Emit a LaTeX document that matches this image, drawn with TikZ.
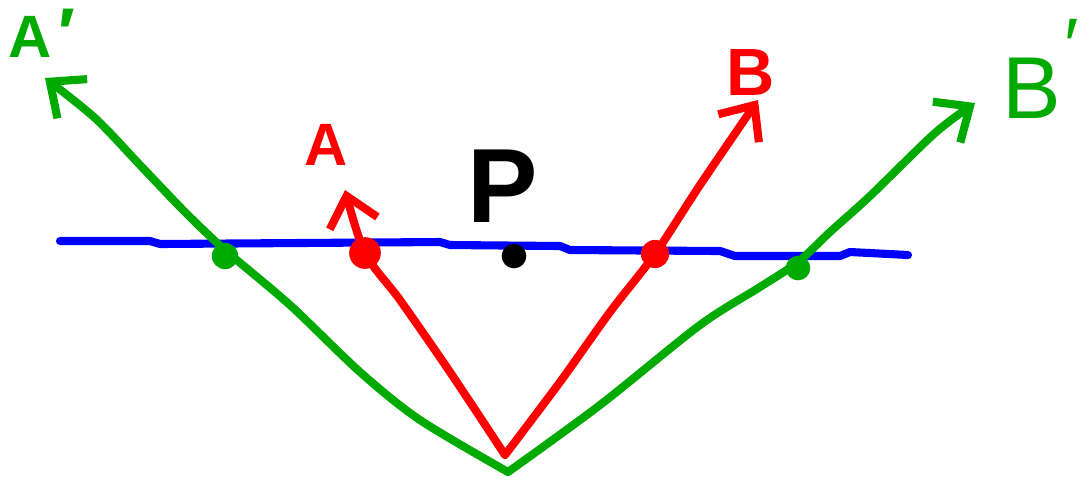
\documentclass[tikz,border=0pt]{standalone}
\usepackage{fontspec}
\setmainfont{Liberation Sans}
\usetikzlibrary{arrows.meta}
\definecolor{pgreen}{RGB}{0,170,0}
\definecolor{pred}{RGB}{255,0,0}
\definecolor{pblue}{RGB}{0,0,255}
\tikzset{
  px/.style={x=0.01cm,y=-0.01cm},
  stroke/.style={line width=2.3pt,line cap=round,line join=round},
  ray/.style={stroke,-{Straight Barb[length=8pt,width=14pt,line width=2.3pt]}},
  dotmark/.style={circle,inner sep=0pt,minimum size=7.5pt},
  lbl/.style={inner sep=0pt}
}
\begin{document}
\begin{tikzpicture}[px]
\useasboundingbox (0,0) rectangle (1091,484);
% blue line
\draw[stroke,pblue] (60,241) -- (150,241) -- (160,244) -- (440,242) -- (450,245) -- (560,246) -- (570,250) -- (720,251) -- (735,256) -- (840,256) -- (850,252) -- (908,255);
% apexes and tips
\coordinate (rv) at (505,455);
\coordinate (gv) at (508,472);
\coordinate (at) at (345,190);
\coordinate (bt) at (758,100);
\coordinate (apt) at (45,78);
\coordinate (bpt) at (975,103);
% rays
\draw[ray,pgreen] plot[smooth,tension=0.5] coordinates {(gv) (420,420) (360,372) (290,305) (225,250) (185,212) (140,165) (95,118) (apt)};
\draw[ray,pgreen] plot[smooth,tension=0.5] coordinates {(gv) (600,405) (700,325) (760,287) (798,262) (830,232) (870,196) (935,133) (bpt)};
\draw[ray,pred] plot[smooth,tension=0.5] coordinates {(rv) (450,372) (400,300) (365,253) (at)};
\draw[ray,pred] plot[smooth,tension=0.5] coordinates {(rv) (560,382) (610,312) (655,254) (700,185) (bt)};
% points on the line
\node[dotmark,fill=pgreen] (gl) at (225,256) {};
\node[dotmark,fill=pgreen,minimum size=7pt] (gr) at (798,268) {};
\node[dotmark,fill=pred,minimum size=9pt] (rl) at (365,253) {};
\node[dotmark,fill=pred,minimum size=8pt] (rr) at (655,254) {};
\node[dotmark,fill=black,minimum size=7pt] (p) at (514,256) {};
% labels
\node[lbl,pgreen,font=\fontsize{17}{17}\selectfont\bfseries] (la) at (30,37) {A};
\node[lbl,pgreen,font=\fontsize{20}{20}\selectfont\bfseries] (lap) at (67,33) {′};
\node[lbl,pgreen,font=\fontsize{25}{25}\selectfont] (lb) at (1032,88) {B};
\node[lbl,pgreen,font=\fontsize{22}{22}\selectfont] (lbp) at (1072,46) {′};
\node[lbl,pred,font=\fontsize{19}{19}\selectfont\bfseries] (lbr) at (751,73) {B};
\node[lbl,pred,font=\fontsize{17}{17}\selectfont\bfseries] (lar) at (326,145) {A};
\node[lbl,black,font=\fontsize{30}{30}\selectfont\bfseries] (lp) at (503,186) {P};
\end{tikzpicture}
\end{document}
